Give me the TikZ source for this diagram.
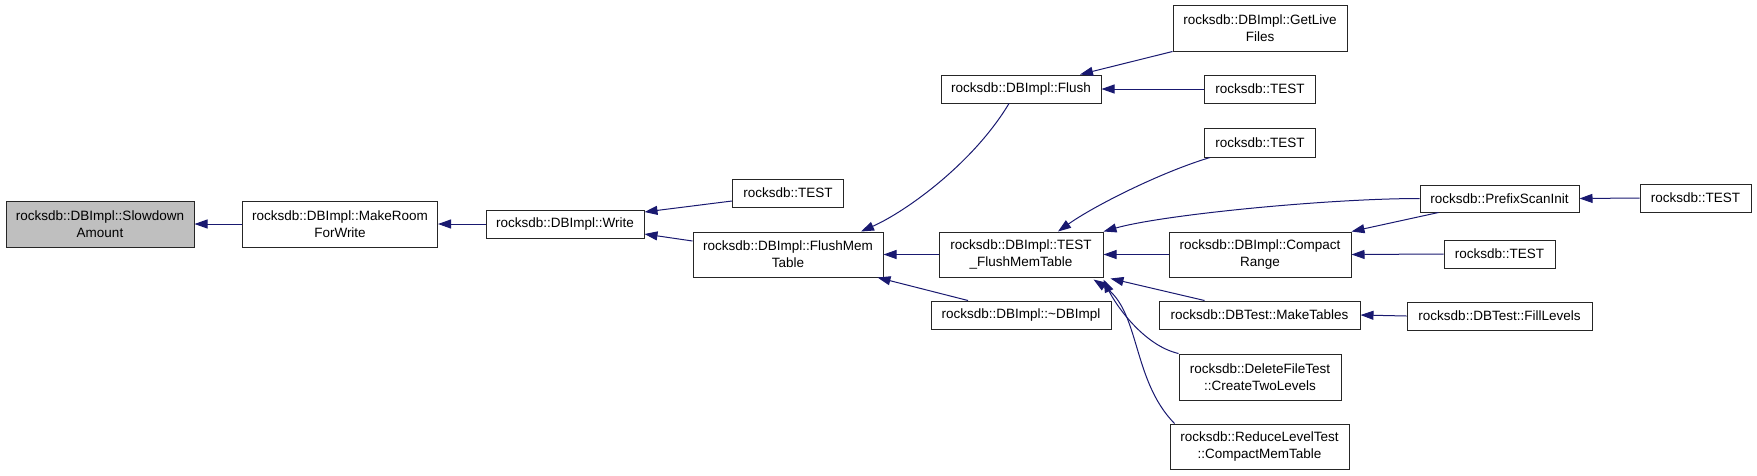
\documentclass[tikz,border=0pt]{standalone}
\usepackage{fontspec}
\setmainfont{Liberation Sans}
\usetikzlibrary{arrows.meta}
\definecolor{edgec}{HTML}{191970}
\definecolor{grayfill}{HTML}{BFBFBF}
\begin{document}
\begin{tikzpicture}[x=1pt,y=-1pt,
  box/.style={draw=black!85, line width=1pt, fill=white, inner sep=0pt, align=center,
    font=\fontsize{13.5}{17}\selectfont},
  edge/.style={draw=edgec, line width=1pt, {Triangle[length=13pt,width=9pt]}-}]
\useasboundingbox (0,0) rectangle (1757,475);
% nodes
\node[box, fill=grayfill, minimum width=188pt, minimum height=46pt] (slow) at (100,224) {rocksdb::DBImpl::Slowdown\\Amount};
\node[box, minimum width=195pt, minimum height=46pt] (mrfw) at (340,224) {rocksdb::DBImpl::MakeRoom\\ForWrite};
\node[box, minimum width=158pt, minimum height=28pt] (write) at (565,224) {rocksdb::DBImpl::Write};
\node[box, minimum width=111pt, minimum height=28pt] (t1) at (788,193) {rocksdb::TEST};
\node[box, minimum width=190pt, minimum height=45pt] (fmt) at (788,254.5) {rocksdb::DBImpl::FlushMem\\Table};
\node[box, minimum width=160pt, minimum height=28pt] (flush) at (1021,89) {rocksdb::DBImpl::Flush};
\node[box, minimum width=164pt, minimum height=45pt] (tfmt) at (1021,254.5) {rocksdb::DBImpl::TEST\\\_FlushMemTable};
\node[box, minimum width=180pt, minimum height=28pt] (dtor) at (1021,315) {rocksdb::DBImpl::\textasciitilde DBImpl};
\node[box, minimum width=174pt, minimum height=46pt] (glf) at (1260,28) {rocksdb::DBImpl::GetLive\\Files};
\node[box, minimum width=111pt, minimum height=28pt] (t2) at (1260,89) {rocksdb::TEST};
\node[box, minimum width=111pt, minimum height=29pt] (t3) at (1260,142.5) {rocksdb::TEST};
\node[box, minimum width=182pt, minimum height=45pt] (cr) at (1260,254.5) {rocksdb::DBImpl::Compact\\Range};
\node[box, minimum width=201pt, minimum height=28pt] (mt) at (1259.5,315) {rocksdb::DBTest::MakeTables};
\node[box, minimum width=162pt, minimum height=46pt] (dft) at (1260,377) {rocksdb::DeleteFileTest\\::CreateTwoLevels};
\node[box, minimum width=179pt, minimum height=45pt] (rlt) at (1259.5,446.5) {rocksdb::ReduceLevelTest\\::CompactMemTable};
\node[box, minimum width=159pt, minimum height=27pt] (psi) at (1499.5,198.5) {rocksdb::PrefixScanInit};
\node[box, minimum width=111pt, minimum height=28pt] (t4) at (1695.5,198) {rocksdb::TEST};
\node[box, minimum width=111pt, minimum height=28pt] (t5) at (1499.5,254) {rocksdb::TEST};
\node[box, minimum width=185pt, minimum height=28pt] (fl) at (1499.5,316) {rocksdb::DBTest::FillLevels};
% edges
\draw[edge] (slow.east) -- (mrfw.west);
\draw[edge] (mrfw.east) -- (write.west);
\draw[edge] ([yshift=12pt]write.east) -- ([yshift=-8pt]t1.west);
\draw[edge] ([yshift=-10pt]write.east) -- ([yshift=13.5pt]fmt.west);
\draw[edge] ([xshift=73pt]fmt.north) .. controls +(45,-20) and +(-36,60) .. ([xshift=-12pt]flush.south);
\draw[edge] ([xshift=59pt]flush.north) -- (glf.south west);
\draw[edge] (flush.east) -- (t2.west);
\draw[edge] ([xshift=37pt]tfmt.north) .. controls +(35,-25) and +(-50,15) .. ([xshift=-50pt]t3.south);
\draw[edge] (tfmt.north east) .. controls +(60,-17) and +(-90,0) .. (psi.west);
\draw[edge] (fmt.east) -- (tfmt.west);
\draw[edge] (tfmt.east) -- (cr.west);
\draw[edge] (cr.north east) -- ([xshift=-61pt]psi.south);
\draw[edge] (cr.east) -- (t5.west);
\draw[edge] (psi.east) -- (t4.west);
\draw[edge] ([xshift=-6pt]fmt.south east) -- ([xshift=-53pt]dtor.north);
\draw[edge] ([xshift=7pt,yshift=-1pt]tfmt.south east) -- ([xshift=-55pt]mt.north);
\draw[edge] ([xshift=0pt,yshift=-2pt]tfmt.south east) .. controls +(12,25) and +(-35,-8) .. (dft.north west);
\draw[edge] ([xshift=-10pt,yshift=-2pt]tfmt.south east) .. controls +(47,31) and +(-43,-44) .. ([xshift=5pt]rlt.north west);
\draw[edge] (mt.east) -- (fl.west);
\end{tikzpicture}
\end{document}
